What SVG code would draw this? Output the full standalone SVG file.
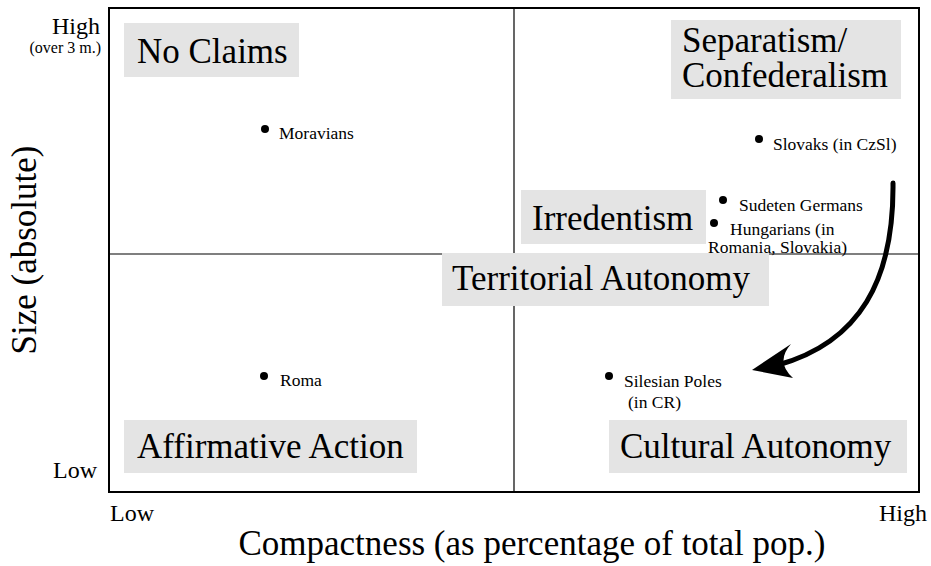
<svg xmlns="http://www.w3.org/2000/svg" width="931" height="566" viewBox="0 0 931 566">
<style>
text{font-family:"Liberation Serif","Times New Roman",serif;fill:#000}
.big{font-size:35px}
.ax{font-size:24px}
.sm{font-size:17.5px}
.sub{font-size:16px}
.box{fill:#e4e4e4;stroke:none}
.dot{fill:#000}
</style>
<rect width="931" height="566" fill="#fff"/>
<g id="frame">
<rect x="109" y="8" width="810" height="484" fill="none" stroke="#000" stroke-width="2"/>
</g>
<g id="connectors" stroke="#000" fill="none">
<line x1="514" y1="8" x2="514" y2="492" stroke-width="1.2"/>
<line x1="109" y1="254" x2="919" y2="254" stroke-width="1.2"/>
<path d="M893,183 C894,280 860,342 778,365" stroke-width="5" stroke-linecap="round"/>
<path d="M752,370 L791,344 Q775,362 793,378 Z" fill="#000" stroke="none"/>
</g>
<g id="axis-labels">
<text class="ax" x="100" y="34" text-anchor="end">High</text>
<text class="sub" x="101" y="53" text-anchor="end">(over 3 m.)</text>
<text class="ax" x="97" y="478" text-anchor="end">Low</text>
<text class="big" transform="translate(36,250) rotate(-90)" text-anchor="middle">Size (absolute)</text>
<text class="ax" x="110" y="521">Low</text>
<text class="ax" x="927" y="521" text-anchor="end">High</text>
<text class="big" x="532" y="555" text-anchor="middle">Compactness (as percentage of total pop.)</text>
</g>
<g id="no-claims">
<rect class="box" x="124" y="23" width="175" height="54"/>
<text class="big" x="137" y="63">No Claims</text>
</g>
<g id="separatism">
<rect class="box" x="671" y="20" width="230" height="79"/>
<text class="big" x="682" y="52">Separatism/</text>
<text class="big" x="682" y="87">Confederalism</text>
</g>
<g id="irredentism">
<rect class="box" x="521" y="190" width="185" height="54"/>
<text class="big" x="532" y="230">Irredentism</text>
</g>
<g id="territorial-autonomy">
<rect class="box" x="442" y="253" width="327" height="53"/>
<text class="big" x="452" y="290">Territorial Autonomy</text>
</g>
<g id="affirmative-action">
<rect class="box" x="124" y="420" width="293" height="53"/>
<text class="big" x="137" y="458">Affirmative Action</text>
</g>
<g id="cultural-autonomy">
<rect class="box" x="609" y="420" width="298" height="53"/>
<text class="big" x="620" y="458">Cultural Autonomy</text>
</g>
<g id="moravians">
<circle class="dot" cx="265" cy="129" r="4"/>
<text class="sm" x="279" y="139">Moravians</text>
</g>
<g id="slovaks">
<circle class="dot" cx="759" cy="139" r="4"/>
<text class="sm" x="773" y="150">Slovaks (in CzSl)</text>
</g>
<g id="sudeten-germans">
<circle class="dot" cx="723" cy="200" r="4"/>
<text class="sm" x="739" y="211">Sudeten Germans</text>
</g>
<g id="hungarians">
<circle class="dot" cx="714" cy="223" r="4"/>
<text class="sm" x="730" y="235">Hungarians (in</text>
<text class="sm" x="708" y="253">Romania, Slovakia)</text>
</g>
<g id="roma">
<circle class="dot" cx="264" cy="376" r="4"/>
<text class="sm" x="280" y="386">Roma</text>
</g>
<g id="silesian-poles">
<circle class="dot" cx="609" cy="376" r="4"/>
<text class="sm" x="624" y="387">Silesian Poles</text>
<text class="sm" x="628" y="408">(in CR)</text>
</g>
</svg>
